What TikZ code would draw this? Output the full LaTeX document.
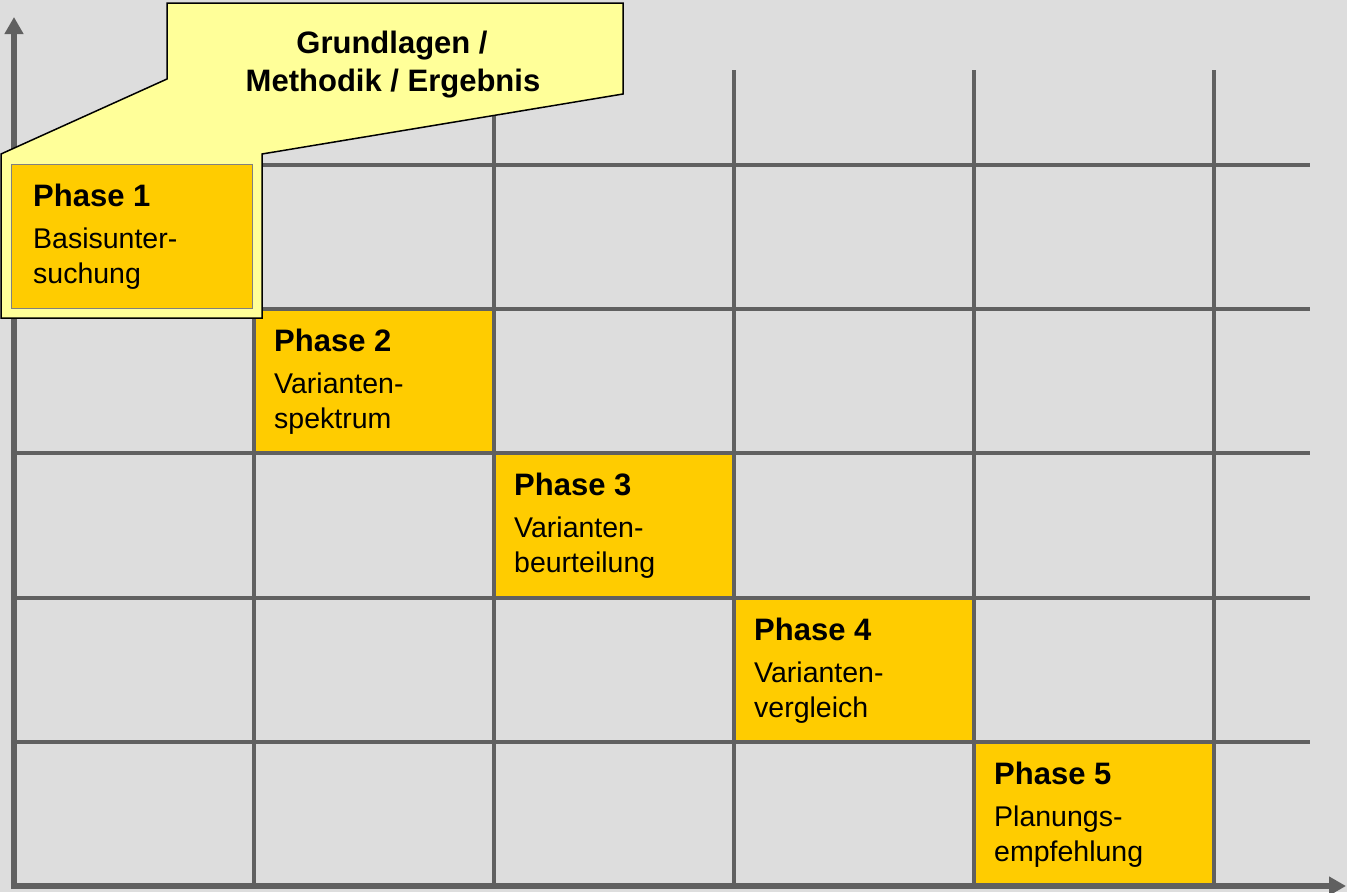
\documentclass[tikz,border=0pt]{standalone}
\usepackage{fontspec}
\setmainfont{Liberation Sans}
\usetikzlibrary{arrows.meta}
\definecolor{bgcol}{HTML}{DDDDDD}
\definecolor{gridcol}{HTML}{606060}
\definecolor{phasecol}{HTML}{FFCC00}
\definecolor{calloutcol}{HTML}{FFFF99}
\definecolor{boxedge}{HTML}{808080}
\tikzset{
  gridline/.style={draw=gridcol, line width=4pt},
  axisline/.style={draw=gridcol, line width=6pt, -{Triangle[length=17pt,width=18pt]}},
  phasecell/.style={fill=phasecol, draw=none, inner sep=0pt, outer sep=0pt, anchor=north west, minimum width=240pt, minimum height=144pt},
  ptitle/.style={font=\bfseries\fontsize{31}{36}\selectfont, anchor=base west, inner sep=0pt},
  ptext/.style={font=\fontsize{28.5}{34}\selectfont, anchor=base west, inner sep=0pt},
  ctext/.style={font=\bfseries\fontsize{31}{36}\selectfont, anchor=base, inner sep=0pt},
  callout/.style={fill=calloutcol, draw=black, line width=1.5pt, line join=miter},
}
\begin{document}
\begin{tikzpicture}[x=1pt,y=-1pt]
\useasboundingbox (0,0) rectangle (1347,892);
\fill[bgcol] (0,0) rectangle (1347,892);
% phase cells 2..5
\foreach \k/\x/\y/\a/\b in {2/254/309/Varianten-/spektrum,3/494/453/Varianten-/beurteilung,4/734/598/Varianten-/vergleich,5/974/742/Planungs-/empfehlung}{
  \node[phasecell] (ph\k) at (\x,\y) {};
}
% grid
\foreach \y in {165,309,453,598,742}{
  \coordinate (hl\y) at (14,\y);
  \coordinate (hr\y) at (1310,\y);
  \draw[gridline] (hl\y) -- (hr\y);
}
\foreach \x in {254,494,734,974,1214}{
  \coordinate (vt\x) at (\x,70);
  \coordinate (vb\x) at (\x,886);
  \draw[gridline] (vt\x) -- (vb\x);
}
% axes
\coordinate (yfoot) at (14,889);
\coordinate (ytip) at (14,17);
\coordinate (xfoot) at (11,886);
\coordinate (xtip) at (1346,886);
\draw[axisline] (yfoot) -- (ytip);
\draw[axisline] (xfoot) -- (xtip);
% callout
\draw[callout] (167,3) -- (623,3) -- (623,94) -- (262,154) -- (262,318) -- (1,318) -- (1,154) -- (167,79) -- cycle;
\node[ctext] (c1) at (392,53) {Grundlagen /};
\node[ctext] (c2) at (393,91) {Methodik / Ergebnis};
% phase 1 box
\node[fill=phasecol, draw=boxedge, line width=1.2pt, inner sep=0pt, anchor=north west, minimum width=241pt, minimum height=144pt] (ph1) at (11,164) {};
\node[ptitle] (ph1t) at (33,206) {Phase 1};
\node[ptext] (ph1a) at (33,248) {Basisunter-};
\node[ptext] (ph1b) at (33,283) {suchung};
% phase texts 2..5
\foreach \k/\x/\y/\a/\b in {2/254/309/Varianten-/spektrum,3/494/453/Varianten-/beurteilung,4/734/598/Varianten-/vergleich,5/974/742/Planungs-/empfehlung}{
  \node[ptitle] (ph\k t) at (\x+20,\y+42) {Phase \k};
  \node[ptext] (ph\k a) at (\x+20,\y+84) {\a};
  \node[ptext] (ph\k b) at (\x+20,\y+119) {\b};
}
\end{tikzpicture}
\end{document}
